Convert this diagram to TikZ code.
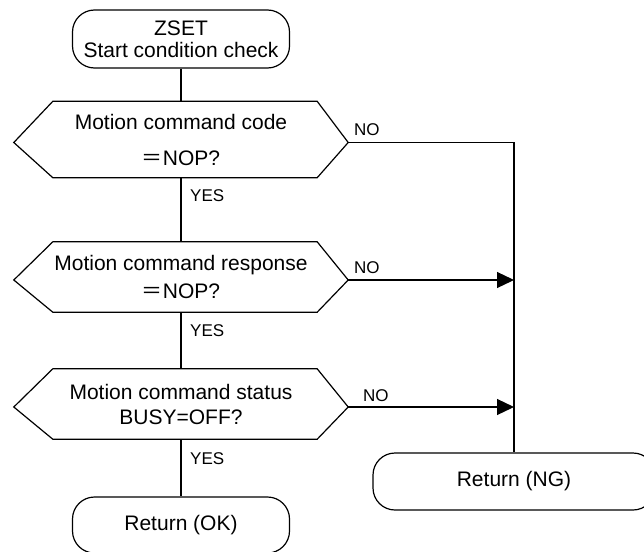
\documentclass[tikz,border=0pt]{standalone}
\usepackage{fontspec}
\setmainfont{Liberation Sans}
\newfontfamily\cjkfont{Noto Sans CJK JP}
\usetikzlibrary{arrows.meta,positioning,calc}

\tikzset{
  line/.style={line width=1.2pt},
  term/.style={draw, line width=1.2pt, rounded corners=22pt, minimum width=217pt,
    minimum height=58pt, inner sep=0pt, align=center, font=\fontsize{21}{22}\selectfont},
  dec/.style={minimum width=334pt, inner sep=0pt, align=center},
  lbl/.style={font=\fontsize{17}{17}\selectfont, inner sep=0pt, anchor=west},
  arr/.style={line width=1.2pt, -{Triangle[length=17pt,width=16pt]}}
}

\begin{document}
\begin{tikzpicture}[x=1pt,y=-1pt]
  \useasboundingbox (0,0) rectangle (644,551);
  % Terminals
  \node[term] (start) at (181,39) {ZSET\\Start condition check};
  \node[term, minimum height=56pt] (ok) at (181,525) {Return (OK)};
  \node[term, minimum width=282pt, minimum height=57pt] (ng) at (514,481.5) {Return (NG)};
  % Decisions
  \node[dec, minimum height=76pt, font=\fontsize{21}{36}\selectfont] (d1) at (181,139.5)
    {Motion command code\\{\cjkfont ＝}NOP?};
  \node[dec, minimum height=70pt, font=\fontsize{21}{28}\selectfont] (d2) at (181,277)
    {Motion command response\\{\cjkfont ＝}NOP?};
  \node[dec, minimum height=70pt, font=\fontsize{21}{25}\selectfont] (d3) at (181,404)
    {Motion command status\\BUSY=OFF?};
  % Hexagon outlines (tips sit a little below centre)
  \foreach \n in {d1,d2,d3} {
    \coordinate (\n-tip) at ([yshift=-3pt]\n.east);
    \draw[line] ([yshift=-3pt]\n.west) -- ([xshift=39pt]\n.north west)
      -- ([xshift=-31pt]\n.north east) -- (\n-tip)
      -- ([xshift=-31pt]\n.south east) -- ([xshift=39pt]\n.south west) -- cycle;
  }
  % YES path
  \draw[line] (start) -- (d1);
  \draw[line] (d1) -- (d2);
  \draw[line] (d2) -- (d3);
  \draw[line] (d3) -- (ok);
  % NO path
  \draw[line] (d1-tip) -| (ng);
  \draw[arr] (d2-tip) -- (d2-tip -| ng);
  \draw[arr] (d3-tip) -- (d3-tip -| ng);
  % Labels
  \node[lbl] (yes1) at (190,196) {YES};
  \node[lbl] (yes2) at (190,331) {YES};
  \node[lbl] (yes3) at (190,459) {YES};
  \node[lbl] (no1) at (354,129.5) {NO};
  \node[lbl] (no2) at (354,268) {NO};
  \node[lbl] (no3) at (363,396) {NO};
\end{tikzpicture}
\end{document}
